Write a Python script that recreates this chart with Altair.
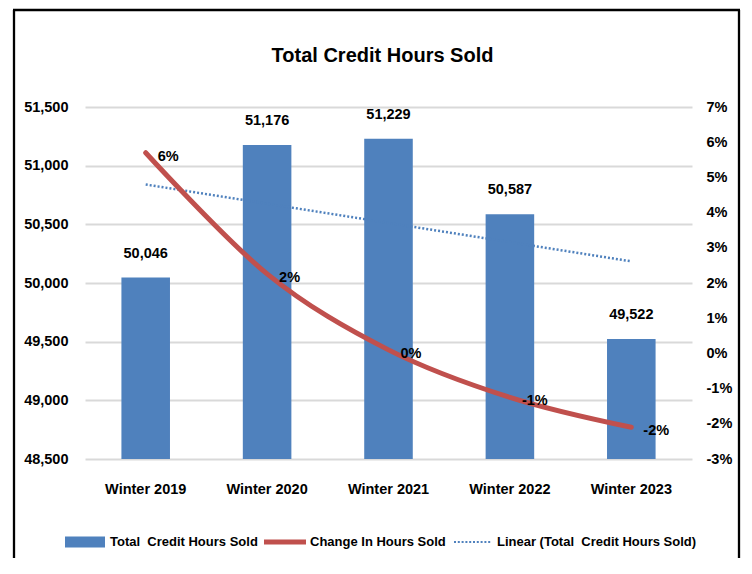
import json
import altair as alt
import pandas as pd

# ---------------- data ----------------
categories = ["Winter 2019", "Winter 2020", "Winter 2021", "Winter 2022", "Winter 2023"]
credit_hours = [50046, 51176, 51229, 50587, 49522]
change_in_hours = [0.057, 0.0226, 0.0010, -0.0125, -0.0210]
left_ticks = [48500, 49000, 49500, 50000, 50500, 51000, 51500]
right_ticks = [-0.03, -0.02, -0.01, 0.0, 0.01, 0.02, 0.03, 0.04, 0.05, 0.06, 0.07]
series_names = [
    "Total\u00a0 Credit Hours Sold",
    "Change In Hours Sold",
    "Linear (Total\u00a0 Credit Hours Sold)",
]
series_colors = ["#4F81BD", "#C0504D", "#4F81BD"]

# ---------------- style ----------------
FONT = "Liberation Sans, Arial, sans-serif"
FS = 14.5
BLUE = "#4F81BD"
RED = "#C0504D"

df = pd.DataFrame({
    "category": categories,
    "hours": credit_hours,
    "change": change_in_hours,
    "idx": list(range(len(categories))),
})

x_enc = alt.X(
    "category:N",
    sort=categories,
    scale=alt.Scale(domain=categories, paddingInner=0.6, paddingOuter=0.3),
    axis=alt.Axis(title=None, labelAngle=0, domain=False, ticks=False, grid=False,
                  labelPadding=23, labelFont=FONT, labelFontSize=FS,
                  labelFontWeight="bold", labelColor="#000"),
)

y_left = alt.Y(
    "hours:Q",
    scale=alt.Scale(domain=[48500, 51500], nice=False, zero=False),
    axis=alt.Axis(title=None, values=left_ticks, labelExpr="format(datum.value, ',')",
                  domain=False, ticks=False,
                  grid=True, gridColor="#D9D9D9", gridWidth=2, labelPadding=17,
                  labelFont=FONT, labelFontSize=FS, labelFontWeight="bold",
                  labelColor="#000", labelLimit=200),
)

y_right = alt.Y(
    "change:Q",
    scale=alt.Scale(domain=[-0.03, 0.07], nice=False, zero=False),
    axis=alt.Axis(title=None, orient="right", values=right_ticks,
                  labelExpr="round(datum.value * 100) + '%'",
                  domain=False, ticks=False, grid=False, labelPadding=14,
                  labelFont=FONT, labelFontSize=FS, labelFontWeight="bold",
                  labelColor="#000"),
)

base = alt.Chart(df)

bars = base.mark_bar(color=BLUE).encode(x=x_enc, y=y_left, y2=alt.datum(48500))

bar_labels = base.mark_text(
    baseline="alphabetic", dy=-20, font=FONT, fontSize=FS, fontWeight="bold", color="#000"
).encode(x=x_enc, y=y_left, text=alt.Text("hours:Q", format=","))

trend = (
    base.transform_regression("idx", "hours", method="linear")
    .transform_calculate(category=f"{json.dumps(categories)}[datum.idx]")
    .mark_line(color=BLUE, strokeDash=[2, 2], strokeWidth=2.5)
    .encode(x=x_enc, y=y_left)
)

line = base.mark_line(color=RED, strokeWidth=5, interpolate="cardinal", strokeCap="round").encode(
    x=x_enc, y=y_right
)

line_labels = (
    base.transform_calculate(lbl="round(datum.change * 100) + '%'")
    .mark_text(align="left", baseline="alphabetic", dx=12, dy=8, font=FONT, fontSize=FS,
               fontWeight="bold", color="#000")
    .encode(x=x_enc, y=y_right, text="lbl:N")
)

# ---------------- legend (symbols from custom paths) ----------------
rect_path = "M-1,-0.28H1V0.28H-1Z"
line_path = "M-1.05,-0.13H1.05V0.13H-1.05Z"
dots_path = " ".join(
    f"M{-0.9 + k * 0.19:.3f},-0.05h0.1v0.1h-0.1Z" for k in range(10)
)

legend_spec = alt.Legend(
    orient="none", legendX=-20, legendY=415, direction="horizontal", title=None,
    labelFont=FONT, labelFontSize=13, labelFontWeight="bold", labelColor="#000",
    labelLimit=400, symbolSize=1600, symbolStrokeWidth=0, symbolOpacity=1,
    labelOffset=5, columnPadding=6, padding=0,
)

legend_layer = alt.Chart(pd.DataFrame({"series": series_names})).mark_point(
    filled=True, opacity=0
).encode(
    color=alt.Color("series:N", sort=series_names,
                    scale=alt.Scale(domain=series_names, range=series_colors),
                    legend=legend_spec),
    shape=alt.Shape("series:N", sort=series_names,
                    scale=alt.Scale(domain=series_names,
                                    range=[rect_path, line_path, dots_path]),
                    legend=legend_spec),
)

# ---------------- frame around the chart (left, top, right edges) ----------------
frame_data = alt.Data(values=[{"k": 1}])
frame_style = dict(color="#000", strokeWidth=2.3)
frame_left = alt.Chart(frame_data).mark_rule(**frame_style).encode(
    x=alt.value(-71), y=alt.value(-97), y2=alt.value(470)
)
frame_right = alt.Chart(frame_data).mark_rule(**frame_style).encode(
    x=alt.value(654), y=alt.value(-97), y2=alt.value(470)
)
frame_top = alt.Chart(frame_data).mark_rule(**frame_style).encode(
    x=alt.value(-72), x2=alt.value(655), y=alt.value(-97)
)

left = alt.layer(bars, bar_labels, trend)
right = alt.layer(line, line_labels)

chart = (
    alt.layer(left, right, legend_layer, frame_left, frame_right, frame_top)
    .resolve_scale(y="independent")
    .properties(
        width=607,
        height=352,
        title=alt.TitleParams(
            "Total Credit Hours Sold", font=FONT, fontSize=20, fontWeight="bold",
            color="#000", anchor="middle", frame="group", dx=-6,
            baseline="alphabetic", offset=-73,
        ),
        autosize=alt.AutoSizeParams(type="none"),
        padding={"left": 77, "top": 99, "right": 52, "bottom": 99},
    )
    .configure_view(stroke=None)
)

chart.save("out.html", embed_options={"renderer": "svg", "actions": False})
